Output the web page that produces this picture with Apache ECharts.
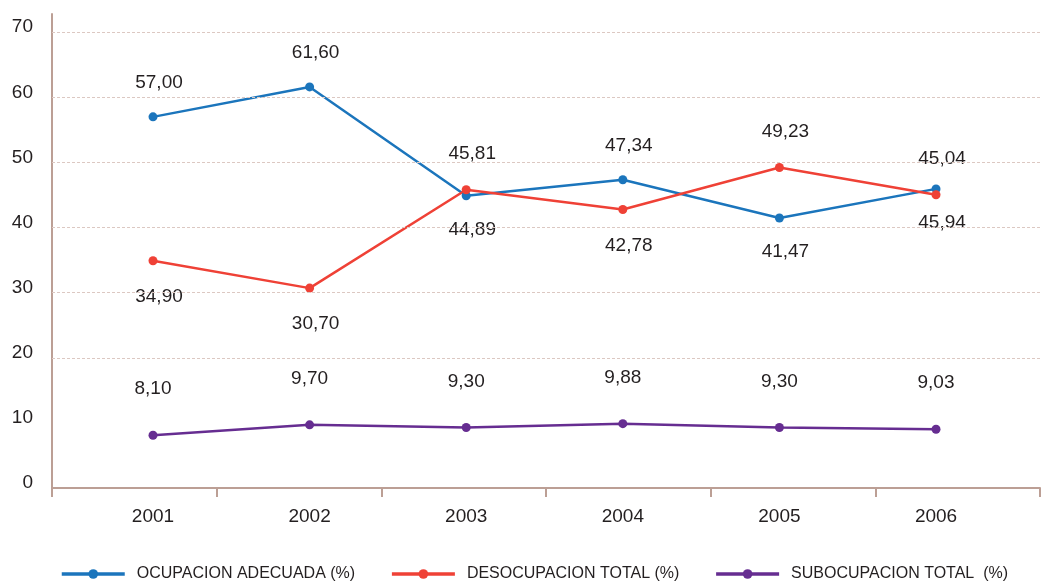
<!DOCTYPE html>
<html>
<head>
<meta charset="utf-8">
<script src="https://cdn.jsdelivr.net/npm/echarts@6/dist/echarts.min.js"></script>
<style>
  html, body { margin: 0; padding: 0; background: #fff; }
  #chart { width: 1043px; height: 582px; }
</style>
</head>
<body>
<div id="chart"></div>
<script>
// datos
var years = ['2001', '2002', '2003', '2004', '2005', '2006'];
var ocupacion = [57.00, 61.60, 44.89, 47.34, 41.47, 45.94];
var desocupacion = [34.90, 30.70, 45.81, 42.78, 49.23, 45.04];
var subocupacion = [8.10, 9.70, 9.30, 9.88, 9.30, 9.03];
var gridValues = [20, 30, 40, 50, 60, 70];

// donde va cada etiqueta (arriba / abajo del punto)
var posOcup = ['top', 'top', 'bottom', 'top', 'bottom', 'bottom'];
var posDesoc = ['bottom', 'bottom', 'top', 'bottom', 'top', 'top'];
var posSub = ['top', 'top', 'top', 'top', 'top', 'top'];

var font = '"Liberation Sans", Arial, sans-serif';
var txt = '#231f20';
var axisColor = '#bc9f95';

function toData(vals, pos) {
  return vals.map(function (v, i) {
    return { value: [i, v], label: { position: pos[i] } };
  });
}

function fmt(p) {
  return p.value[1].toFixed(2).replace('.', ',');
}

var myChart = echarts.init(document.getElementById('chart'));
var option;

function lineSerie(name, color, vals, pos, dist, dx) {
  return {
    name: name,
    type: 'line',
    xAxisIndex: 1,
    symbol: 'circle',
    symbolSize: 9,
    color: color,
    lineStyle: { width: 2.5, color: color },
    itemStyle: { color: color },
    label: {
      show: true,
      formatter: fmt,
      distance: dist,
      offset: [dx, 0],
      fontSize: 19,
      fontFamily: font,
      color: txt
    },
    data: toData(vals, pos)
  };
}

var s1 = lineSerie('OCUPACION ADECUADA (%)', '#1b75bc', ocupacion, posOcup, 20, 6);
var s2 = lineSerie('DESOCUPACION TOTAL (%)', '#ef4136', desocupacion, posDesoc, 22, 6);
var s3 = lineSerie('SUBOCUPACION TOTAL  (%)', '#662d91', subocupacion, posSub, 32, 0);

// lineas de la cuadricula (no hay linea en el 10)
s1.markLine = {
  silent: true,
  symbol: ['none', 'none'],
  label: { show: false },
  lineStyle: { type: [3, 2], color: '#dcc8c2', width: 1 },
  data: gridValues.map(function (v) { return { yAxis: v }; })
};

option = {
  animation: false,
  backgroundColor: '#fff',
  textStyle: { fontFamily: font },
  grid: {
    left: 52,
    right: 3,
    top: 14,
    bottom: 94
  },
  legend: {
    left: 60,
    top: 566,
    padding: 0,
    itemWidth: 63,
    itemHeight: 12,
    itemGap: 35,
    lineStyle: { width: 3.5 },
    textStyle: { fontSize: 16, fontFamily: font, color: txt, padding: [0, 0, 0, 7] },
    data: [s1.name, s2.name, s3.name]
  },
  xAxis: [
    {
      type: 'category',
      data: years,
      boundaryGap: true,
      axisLine: { lineStyle: { color: axisColor, width: 2 } },
      axisTick: { show: true, length: 9, interval: 0, lineStyle: { color: axisColor, width: 2 } },
      axisLabel: { show: false },
      splitLine: { show: false }
    },
    {
      type: 'value',
      position: 'bottom',
      min: -0.645,
      max: 5.664,
      axisLine: { show: false },
      axisTick: { show: false },
      splitLine: { show: false },
      axisLabel: {
        customValues: [0, 1, 2, 3, 4, 5],
        formatter: function (v) { return years[Math.round(v)]; },
        margin: 19,
        fontSize: 19,
        fontFamily: font,
        color: txt
      }
    }
  ],
  yAxis: {
    type: 'value',
    min: 0,
    max: 72.8,
    interval: 10,
    axisLine: { show: true, onZero: false, lineStyle: { color: axisColor, width: 2 } },
    axisTick: { show: false },
    splitLine: { show: false },
    axisLabel: {
      showMaxLabel: false,
      margin: 19,
      fontSize: 19,
      fontFamily: font,
      color: txt,
      verticalAlign: 'bottom',
      lineHeight: 10
    }
  },
  series: [s1, s2, s3]
};

option && myChart.setOption(option);
</script>
</body>
</html>
